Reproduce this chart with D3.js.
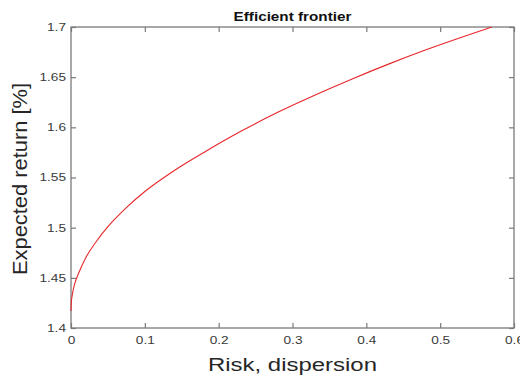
<!DOCTYPE html>
<html>
<head>
<meta charset="utf-8">
<script src="https://cdn.jsdelivr.net/npm/d3@7"></script>
<style>
  body { margin: 0; background: #fff; }
  text { font-family: "Liberation Sans", Arial, sans-serif; }
</style>
</head>
<body>
<script>
var width = 520;
var height = 379;
var margin = {top: 27, left: 71, bottom: 51, right: 6};

// data
var risk = [0, 0.0005, 0.002, 0.005, 0.01, 0.02, 0.035, 0.05, 0.075, 0.1,
  0.14, 0.18, 0.23, 0.28, 0.33, 0.38, 0.43, 0.48, 0.53, 0.57];
var expReturn = [1.417, 1.426, 1.434, 1.444, 1.454, 1.470, 1.487, 1.501, 1.520, 1.536,
  1.557, 1.575, 1.596, 1.615, 1.632, 1.648, 1.663, 1.677, 1.690, 1.700];
var xTicks = [0, 0.1, 0.2, 0.3, 0.4, 0.5, 0.6];
var yTicks = [1.4, 1.45, 1.5, 1.55, 1.6, 1.65, 1.7];
var titleText = "Efficient frontier";
var xLabel = "Risk, dispersion";
var yLabel = "Expected return [%]";

var points = risk.map(function(r, i) { return {x: r, y: expReturn[i]}; });

var svg = d3.select("body")
  .append("svg")
  .attr("width", width)
  .attr("height", height);

var x = d3.scaleLinear().domain([0, 0.6]).range([margin.left, width - margin.right]);
var y = d3.scaleLinear().domain([1.4, 1.7]).range([height - margin.bottom, margin.top]);

var axisColor = "#7a7a7a";
var labelColor = "#3a3a3a";
var sx = 1.3; // picture is stretched sideways

// stretch a text sideways
function stretch(sel, f) {
  sel.each(function() {
    var len = this.getComputedTextLength();
    d3.select(this).attr("textLength", len * f).attr("lengthAdjust", "spacingAndGlyphs");
  });
}

// box
svg.append("rect")
  .attr("x", x(0))
  .attr("y", y(1.7))
  .attr("width", x(0.6) - x(0))
  .attr("height", y(1.4) - y(1.7))
  .attr("fill", "none")
  .attr("stroke", axisColor)
  .attr("stroke-width", 1.3);

// axes, ticks inward
var xAxis = svg.append("g")
  .attr("transform", "translate(0," + y(1.4) + ")")
  .call(d3.axisBottom(x).tickValues(xTicks).tickSize(-5).tickPadding(9).tickFormat(d3.format("")));
var xAxisTop = svg.append("g")
  .attr("transform", "translate(0," + y(1.7) + ")")
  .call(d3.axisTop(x).tickValues(xTicks).tickSize(-5).tickFormat(""));
var yAxis = svg.append("g")
  .attr("transform", "translate(" + x(0) + ",0)")
  .call(d3.axisLeft(y).tickValues(yTicks).tickSize(-5).tickPadding(5).tickFormat(d3.format("")));
var yAxisRight = svg.append("g")
  .attr("transform", "translate(" + x(0.6) + ",0)")
  .call(d3.axisRight(y).tickValues(yTicks).tickSize(-5).tickFormat(""));

[xAxis, xAxisTop, yAxis, yAxisRight].forEach(function(a) {
  a.select(".domain").remove();
  a.selectAll(".tick line").attr("stroke", axisColor).attr("stroke-width", 1.2);
  a.selectAll(".tick text")
    .attr("fill", labelColor)
    .attr("font-size", 10.5)
    .attr("font-family", "Liberation Sans, Arial, sans-serif");
});
xAxis.selectAll(".tick text").call(stretch, sx);
yAxis.selectAll(".tick text").call(stretch, sx);

// curve
var line = d3.line()
  .x(function(d) { return x(d.x); })
  .y(function(d) { return y(d.y); })
  .curve(d3.curveMonotoneX);

svg.append("path")
  .datum(points)
  .attr("d", line)
  .attr("fill", "none")
  .attr("stroke", "#e8262b")
  .attr("stroke-width", 1.1);

// title
svg.append("text")
  .attr("x", (x(0) + x(0.6)) / 2)
  .attr("y", 20.5)
  .attr("text-anchor", "middle")
  .attr("font-size", 12.5)
  .attr("font-weight", "bold")
  .attr("fill", "#111")
  .text(titleText)
  .call(stretch, 1.22);

// x label
svg.append("text")
  .attr("x", (x(0) + x(0.6)) / 2)
  .attr("y", 370.5)
  .attr("text-anchor", "middle")
  .attr("font-size", 18)
  .attr("fill", "#262626")
  .text(xLabel)
  .attr("textLength", 169)
  .attr("lengthAdjust", "spacingAndGlyphs");

// y label
svg.append("text")
  .attr("transform", "translate(27," + 179 + ")rotate(-90)")
  .attr("text-anchor", "middle")
  .attr("font-size", 20)
  .attr("fill", "#262626")
  .text(yLabel)
  .attr("textLength", 192)
  .attr("lengthAdjust", "spacingAndGlyphs");
</script>
</body>
</html>
